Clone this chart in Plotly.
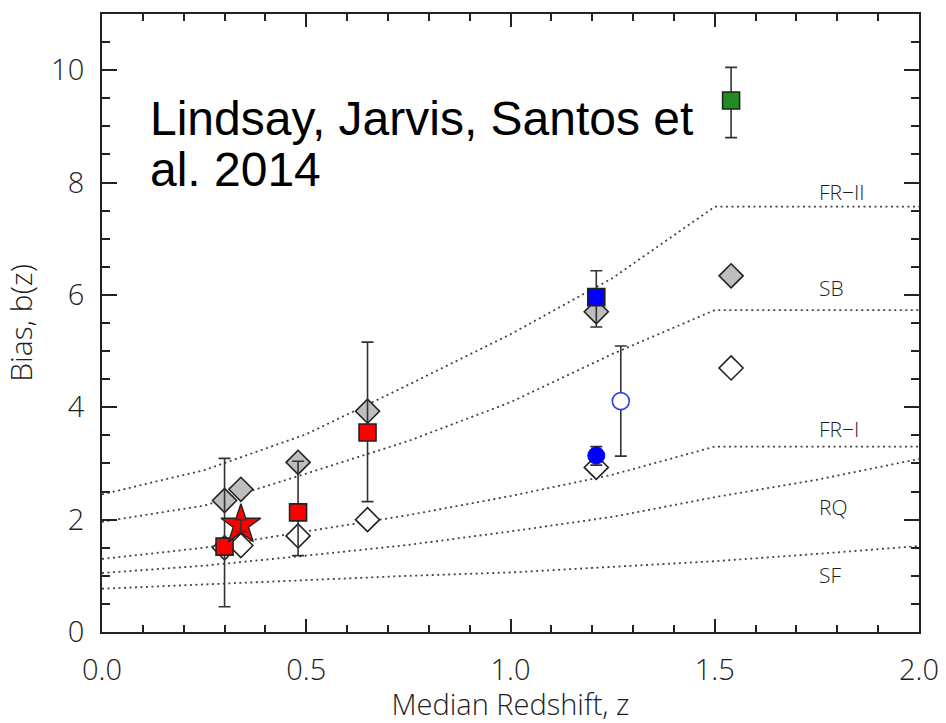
import plotly.graph_objects as go

# ---- model bias tracks b(z) for fixed halo mass (dotted) ----
curve_names = ["FR\u2212II", "SB", "FR\u2212I", "RQ", "SF"]
curve_z = [0.0, 0.25, 0.5, 0.75, 1.0, 1.25, 1.5, 1.75, 2.0]
frii_b = [2.45, 2.88, 3.52, 4.40, 5.30, 6.30, 7.57, 7.57, 7.57]
sb_b = [1.96, 2.25, 2.82, 3.40, 4.09, 4.95, 5.73, 5.73, 5.73]
fri_b = [1.30, 1.50, 1.79, 2.08, 2.42, 2.80, 3.30, 3.30, 3.30]
rq_b = [1.05, 1.18, 1.36, 1.55, 1.79, 2.05, 2.40, 2.71, 3.08]
sf_b = [0.77, 0.85, 0.93, 1.00, 1.06, 1.16, 1.26, 1.39, 1.53]
curve_b = [frii_b, sb_b, fri_b, rq_b, sf_b]
label_z = 1.75
label_b = [7.83, 6.12, 3.62, 2.23, 1.02]

# ---- measurements ----
white_z = [0.30, 0.34, 0.48, 0.65, 1.21, 1.54]
white_b = [1.50, 1.54, 1.71, 2.00, 2.93, 4.70]

grey_z = [0.30, 0.34, 0.48, 0.65, 1.21, 1.54]
grey_b = [2.34, 2.54, 3.02, 3.93, 5.70, 6.34]

red_z = [0.30, 0.48, 0.65]
red_b = [1.52, 2.13, 3.55]
red_hi = [3.09, 3.04, 5.16]
red_lo = [0.45, 1.36, 2.32]

star_z = [0.34]
star_b = [1.91]
star_hi = [2.00]
star_lo = [1.79]

bsq_z = [1.21]
bsq_b = [5.96]
bsq_hi = [6.43]
bsq_lo = [5.43]

bdot_z = [1.21]
bdot_b = [3.14]
bdot_hi = [3.30]
bdot_lo = [2.97]

bring_z = [1.27]
bring_b = [4.11]
bring_hi = [5.09]
bring_lo = [3.13]

green_z = [1.54]
green_b = [9.46]
green_hi = [10.05]
green_lo = [8.80]

INK = "#222222"
TEXT = "#1e1e1e"
THIN = dict(family="Open Sans", color=TEXT, weight=300)
EB = dict(color="#333333", thickness=1.6, width=6)


def errs(vals, hi, lo):
    return dict(type="data", symmetric=False,
                array=[h - v for h, v in zip(hi, vals)],
                arrayminus=[v - l for v, l in zip(vals, lo)], **EB)


fig = go.Figure()

for name, b in zip(curve_names, curve_b):
    fig.add_trace(go.Scatter(x=curve_z, y=b, mode="lines", name=name,
                             line=dict(color="#444444", width=1.8, dash="2px,3.5px")))

fig.add_trace(go.Scatter(x=white_z, y=white_b, mode="markers",
                         marker=dict(symbol="diamond", size=18.5, color="white",
                                     line=dict(color=INK, width=1.6))))
fig.add_trace(go.Scatter(x=grey_z, y=grey_b, mode="markers",
                         marker=dict(symbol="diamond", size=18.5, color="#bebebe",
                                     line=dict(color=INK, width=1.6))))

# red squares; their error bars run over the diamonds underneath
fig.add_trace(go.Scatter(x=red_z, y=red_b, mode="markers",
                         error_y=errs(red_b, red_hi, red_lo),
                         marker=dict(symbol="square", size=17, color="#ff0000",
                                     line=dict(color=INK, width=1.6))))

fig.add_trace(go.Scatter(x=star_z, y=star_b, mode="markers",
                         marker=dict(symbol="star", size=30, color="#ff0000",
                                     line=dict(color=INK, width=1.4))))
fig.add_trace(go.Scatter(x=star_z, y=star_b, mode="markers",
                         error_y=errs(star_b, star_hi, star_lo),
                         marker=dict(size=1, opacity=0)))

fig.add_trace(go.Scatter(x=bsq_z, y=bsq_b, mode="markers",
                         error_y=errs(bsq_b, bsq_hi, bsq_lo),
                         marker=dict(symbol="square", size=17, color="#0000ff",
                                     line=dict(color=INK, width=1.6))))
fig.add_trace(go.Scatter(x=bdot_z, y=bdot_b, mode="markers",
                         error_y=errs(bdot_b, bdot_hi, bdot_lo),
                         marker=dict(symbol="circle", size=17, color="#0000ff",
                                     line=dict(color="#0000ff", width=1))))
fig.add_trace(go.Scatter(x=bring_z, y=bring_b, mode="markers",
                         error_y=errs(bring_b, bring_hi, bring_lo),
                         marker=dict(symbol="circle", size=17, color="white",
                                     line=dict(color="#3040f0", width=1.6))))
fig.add_trace(go.Scatter(x=green_z, y=green_b, mode="markers",
                         error_y=errs(green_b, green_hi, green_lo),
                         marker=dict(symbol="square", size=17, color="#228b22",
                                     line=dict(color=INK, width=1.6))))

for name, yb in zip(curve_names, label_b):
    fig.add_annotation(x=label_z, y=yb, text=name, showarrow=False,
                       xanchor="left", yanchor="middle",
                       font=dict(size=21, **THIN))

for txt, yb in [("Lindsay, Jarvis, Santos et", 9.14), ("al. 2014", 8.24)]:
    fig.add_annotation(x=0.113, y=yb, text=txt, showarrow=False,
                       xanchor="left", yanchor="middle",
                       font=dict(family="Liberation Sans", size=48, color="black"))

axis_common = dict(
    showline=True, linewidth=2, linecolor=INK, mirror="allticks",
    ticks="inside", tickwidth=1.6, tickcolor=INK, showgrid=False, zeroline=False,
    automargin=False, tickfont=dict(size=29, **THIN),
)

fig.update_layout(
    width=946, height=723,
    margin=dict(l=102, r=27, t=14, b=91),
    paper_bgcolor="white", plot_bgcolor="white",
    showlegend=False,
    xaxis=dict(range=[0, 2], dtick=0.5, tickformat=".1f", ticklen=13,
               ticklabelstandoff=11,
               minor=dict(dtick=0.1, ticklen=7, ticks="inside", tickwidth=1.6, tickcolor=INK),
               title=dict(text="Median Redshift, z", standoff=14,
                          font=dict(size=29, **THIN)),
               **axis_common),
    yaxis=dict(range=[0, 11], dtick=2, ticklen=15, ticklabelstandoff=10,
               minor=dict(dtick=0.5, ticklen=8, ticks="inside", tickwidth=1.6, tickcolor=INK),
               title=dict(text="Bias, b(z)", standoff=12,
                          font=dict(size=30, **THIN)),
               **axis_common),
)

fig.write_html("out.html")
